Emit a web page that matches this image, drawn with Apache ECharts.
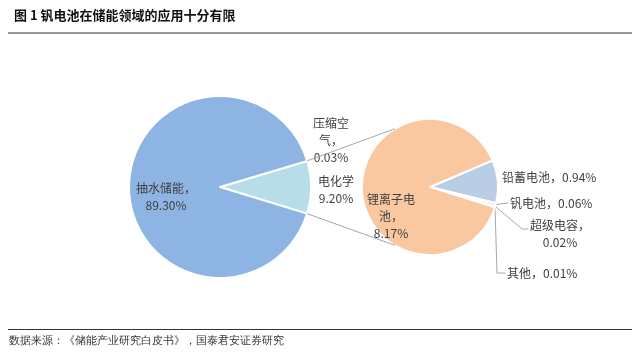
<!DOCTYPE html>
<html>
<head>
<meta charset="utf-8">
<script src="https://cdn.jsdelivr.net/npm/echarts@6/dist/echarts.min.js"></script>
<style>
html, body { margin: 0; padding: 0; background: #fff; }
#chart { width: 640px; height: 355px; }
</style>
</head>
<body>
<div id="chart"></div>
<script>
// 储能装机结构（%）
var mainNames = ['压缩空气', '电化学', '抽水储能'];
var mainValues = [0.03, 9.20, 89.30];
var mainColors = ['#b7dee8', '#b7dee8', '#8db4e2'];
// 电化学储能细分（%）
var subNames = ['铅蓄电池', '钒电池', '超级电容', '其他', '锂离子电池'];
var subValues = [0.94, 0.06, 0.02, 0.01, 8.17];
var subColors = ['#b9cde5', '#b9cde5', '#b9cde5', '#b9cde5', '#fac8a0'];

var FONT = 'Noto Sans CJK SC';
var chart = echarts.init(document.getElementById('chart'));

// 饼图位置
var leftC = [220, 187], leftR = 91, leftStart = 16.7;
var rightC = [430, 187], rightR = 68, rightStart = 23;

// 标签换行
var labelHead = {
  '压缩空气': '压缩空\n气，\n',
  '电化学': '电化学\n',
  '抽水储能': '抽水储能，\n',
  '锂离子电池': '锂离子电\n池，\n',
  '超级电容': '超级电容，\n'
};
function fmt(p) {
  var head = labelHead[p.name] || (p.name + '，');
  return head + p.value.toFixed(2) + '%';
}

// 标签位置
var labelPos = {
  '抽水储能': { x: 166, y: 197, align: 'center' },
  '电化学': { x: 336, y: 190, align: 'center' },
  '压缩空气': { x: 331, y: 140, align: 'center' },
  '锂离子电池': { x: 391, y: 216, align: 'center' },
  '铅蓄电池': { x: 502, y: 177, align: 'left' },
  '钒电池': { x: 510, y: 203, align: 'left' },
  '超级电容': { x: 560, y: 234, align: 'center' },
  '其他': { x: 507, y: 273, align: 'left' }
};
var linePath = {
  '钒电池': [[508, 203]],
  '超级电容': [[522, 229], [528, 229]],
  '其他': [[497, 273], [505, 273]]
};

function makeLayout(names) {
  return function (params) {
    var name = names[params.dataIndex];
    var pos = labelPos[name];
    var res = { x: pos.x, y: pos.y, align: pos.align, verticalAlign: 'middle' };
    if (linePath[name] && params.labelLinePoints) {
      res.labelLinePoints = [params.labelLinePoints[0]].concat(linePath[name]);
    }
    return res;
  };
}

function buildData(names, values, colors) {
  return names.map(function (n, i) {
    return {
      name: n,
      value: values[i],
      itemStyle: { color: colors[i] },
      labelLine: { show: !!linePath[n] }
    };
  });
}

function pt(c, r, deg) {
  var a = deg * Math.PI / 180;
  return [c[0] + r * Math.cos(a), c[1] - r * Math.sin(a)];
}

// 连接线
var sumMain = mainValues.reduce(function (a, b) { return a + b; }, 0);
var upA = leftStart;
var lowA = leftStart - (mainValues[0] + mainValues[1]) / sumMain * 360;
var p1 = pt(leftC, leftR, upA), p2 = pt(rightC, rightR, 121);
var p3 = pt(leftC, leftR, lowA), p4 = pt(rightC, rightR, -121);

var labelStyle = {
  position: 'outside',
  color: '#404040',
  fontSize: 12,
  lineHeight: 17,
  fontFamily: FONT,
  formatter: fmt
};

option = {
  animation: false,
  title: {
    text: '图 1 钒电池在储能领域的应用十分有限',
    left: 9,
    top: 4,
    textStyle: { fontSize: 13, fontWeight: 'bold', color: '#111', fontFamily: FONT }
  },
  graphic: [
    { type: 'line', shape: { x1: 8, y1: 33, x2: 632, y2: 33 }, style: { stroke: '#999', lineWidth: 2 } },
    { type: 'line', shape: { x1: 8, y1: 329.5, x2: 632, y2: 329.5 }, style: { stroke: '#333', lineWidth: 1 } },
    { type: 'text', left: 9, top: 335, style: { text: '数据来源：《储能产业研究白皮书》，国泰君安证券研究', fontSize: 11, fill: '#333', font: '11px "Noto Sans CJK SC"' } },
    { type: 'line', z: 10, shape: { x1: p1[0], y1: p1[1], x2: p2[0], y2: p2[1] }, style: { stroke: '#a6a6a6', lineWidth: 1 } },
    { type: 'line', z: 10, shape: { x1: p3[0], y1: p3[1], x2: p4[0], y2: p4[1] }, style: { stroke: '#a6a6a6', lineWidth: 1 } }
  ],
  series: [
    {
      name: '储能',
      type: 'pie',
      center: leftC,
      radius: [0, leftR],
      startAngle: leftStart,
      clockwise: true,
      avoidLabelOverlap: false,
      minAngle: 0,
      itemStyle: { borderColor: '#fff', borderWidth: 2 },
      label: labelStyle,
      labelLine: { show: false },
      labelLayout: makeLayout(mainNames),
      emphasis: { disabled: true },
      data: buildData(mainNames, mainValues, mainColors)
    },
    {
      name: '电化学',
      type: 'pie',
      center: rightC,
      radius: [0, rightR],
      startAngle: rightStart,
      clockwise: true,
      avoidLabelOverlap: false,
      minAngle: 0,
      itemStyle: { borderColor: '#fff', borderWidth: 2 },
      label: labelStyle,
      labelLine: { show: false, lineStyle: { color: '#a6a6a6', width: 1 } },
      labelLayout: makeLayout(subNames),
      emphasis: { disabled: true },
      data: buildData(subNames, subValues, subColors)
    }
  ]
};
chart.setOption(option);
</script>
</body>
</html>
